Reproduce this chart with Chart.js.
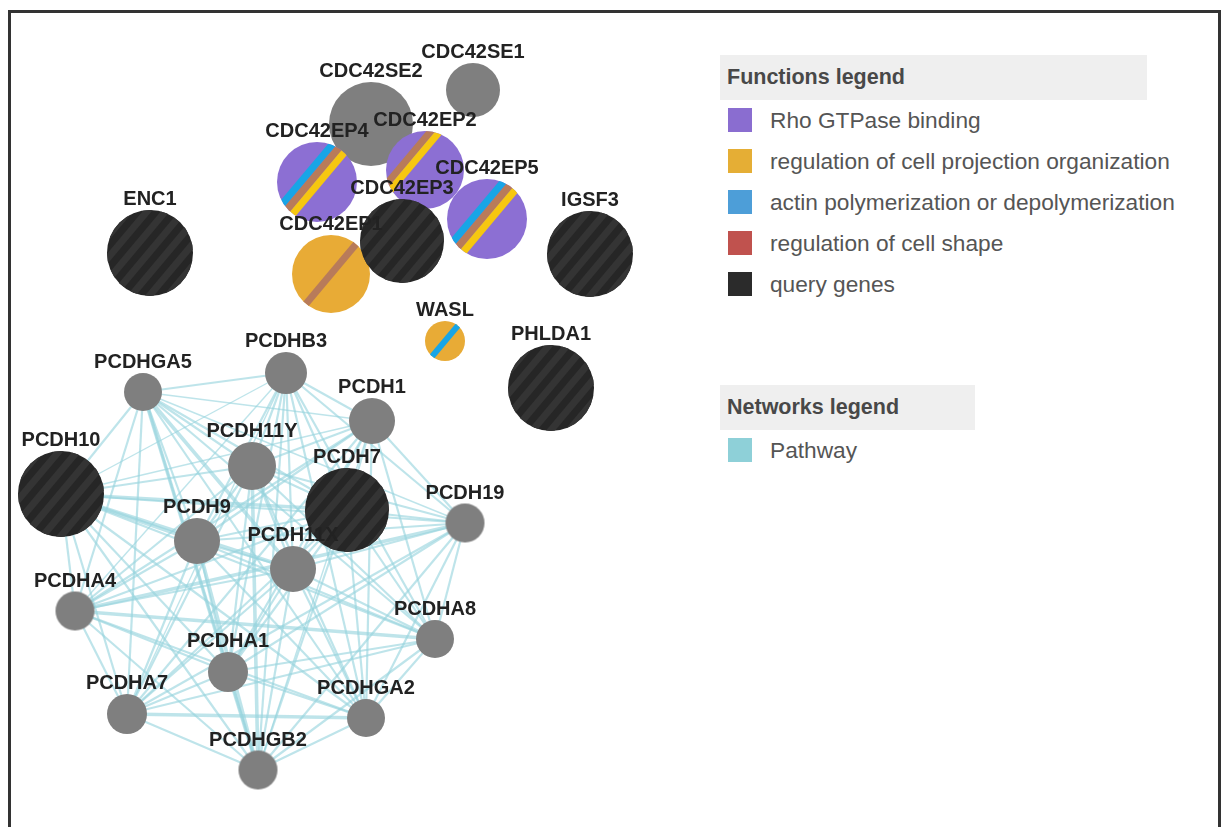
<!DOCTYPE html>
<html>
<head>
<meta charset="utf-8">
<title>Gene network</title>
<script src="https://cdn.jsdelivr.net/npm/chart.js@4.4.1/dist/chart.umd.min.js"></script>
<style>
  body {
    margin: 0;
    width: 1223px;
    height: 827px;
    overflow: hidden;
    position: relative;
    background: #fff;
    font-family: "Liberation Sans", Arial, sans-serif;
  }
  .frame {
    position: absolute;
    left: 8px;
    top: 10px;
    width: 1207px;
    height: 830px;
    border: 3px solid #333;
    border-bottom: none;
  }
  #net { position: absolute; left: 0; top: 0; }
  .legend { position: absolute; left: 720px; }
  .legend .head {
    background: #efefef;
    height: 45px;
    line-height: 45px;
    padding-left: 7px;
    font-size: 21.5px;
    font-weight: bold;
    color: #484848;
  }
  .legend .item {
    position: relative;
    height: 41px;
    line-height: 41px;
    padding-left: 50px;
    font-size: 22.7px;
    color: #555;
    white-space: nowrap;
  }
  .legend .item i {
    position: absolute;
    left: 8px;
    top: 8px;
    width: 24px;
    height: 24px;
  }
</style>
</head>
<body>
<div class="frame"></div>
<canvas id="net" width="700" height="827"></canvas>

<div class="legend" style="top:55px; width:427px;">
  <div class="head">Functions legend</div>
  <div id="fnItems"></div>
</div>
<div class="legend" style="top:385px; width:255px;">
  <div class="head">Networks legend</div>
  <div id="netItems"></div>
</div>

<script>
// ---- data ----
const nodeNames = [
  "CDC42SE1", "CDC42SE2", "CDC42EP4", "CDC42EP2", "CDC42EP5", "CDC42EP1",
  "CDC42EP3", "ENC1", "IGSF3", "WASL", "PHLDA1",
  "PCDHB3", "PCDHGA5", "PCDH1", "PCDH11Y", "PCDH10", "PCDH7", "PCDH19",
  "PCDH9", "PCDH11X", "PCDHA4", "PCDHA8", "PCDHA1", "PCDHA7", "PCDHGA2", "PCDHGB2"
];
// layout coordinates of the network
const nodeX = [473, 371, 317, 425, 487, 331, 402, 150, 590, 445, 551,
  286, 143, 372, 252, 61, 347, 465, 197, 293, 75, 435, 228, 127, 366, 258];
const nodeY = [90, 124, 182, 170, 219, 274, 241, 253, 254, 341, 388,
  373, 392, 421, 466, 494, 510, 523, 541, 569, 611, 639, 672, 714, 718, 770];
// node score (drawn as bubble radius)
const nodeScore = [27, 42, 40, 39, 40, 39, 42, 43, 43, 20, 43,
  21, 19, 23, 24, 43, 42, 19.5, 23, 23, 19.5, 19, 20, 20, 19, 19.5];
const queryGenes = ["CDC42EP3", "ENC1", "IGSF3", "PHLDA1", "PCDH10", "PCDH7"];

const functionNames = [
  "Rho GTPase binding",
  "regulation of cell projection organization",
  "actin polymerization or depolymerization",
  "regulation of cell shape",
  "query genes"
];
// functions per gene (first one is the fill, the rest are bands)
const geneFunctions = {
  CDC42EP4: ["Rho GTPase binding", "actin polymerization or depolymerization", "regulation of cell shape", "regulation of cell projection organization"],
  CDC42EP5: ["Rho GTPase binding", "actin polymerization or depolymerization", "regulation of cell shape", "regulation of cell projection organization"],
  CDC42EP2: ["Rho GTPase binding", "regulation of cell shape", "regulation of cell projection organization"],
  CDC42EP1: ["regulation of cell projection organization", "regulation of cell shape"],
  WASL: ["regulation of cell projection organization", "actin polymerization or depolymerization"]
};
const networkNames = ["Pathway"];

// pathway edges: [source, target, weight]
const edges = [
  ["PCDHB3","PCDHGA5",2],["PCDHB3","PCDH1",2],["PCDHB3","PCDH11Y",2],["PCDHB3","PCDH10",1],
  ["PCDHB3","PCDH7",2],["PCDHB3","PCDH19",2],["PCDHB3","PCDH9",2],["PCDHB3","PCDH11X",2],
  ["PCDHB3","PCDHA4",1],["PCDHB3","PCDHA8",2],["PCDHB3","PCDHA1",2],["PCDHB3","PCDHA7",1],
  ["PCDHB3","PCDHGA2",2],["PCDHB3","PCDHGB2",2],
  ["PCDHGA5","PCDH1",1],["PCDHGA5","PCDH11Y",2],["PCDHGA5","PCDH10",2],["PCDHGA5","PCDH7",2],
  ["PCDHGA5","PCDH19",1],["PCDHGA5","PCDH9",2],["PCDHGA5","PCDH11X",3],["PCDHGA5","PCDHA4",2],
  ["PCDHGA5","PCDHA8",2],["PCDHGA5","PCDHA1",3],["PCDHGA5","PCDHA7",2],["PCDHGA5","PCDHGA2",2],
  ["PCDHGA5","PCDHGB2",2],
  ["PCDH1","PCDH11Y",2],["PCDH1","PCDH10",1],["PCDH1","PCDH7",2],["PCDH1","PCDH19",2],
  ["PCDH1","PCDH9",2],["PCDH1","PCDH11X",2],["PCDH1","PCDHA4",2],["PCDH1","PCDHA8",2],
  ["PCDH1","PCDHA1",2],["PCDH1","PCDHA7",2],["PCDH1","PCDHGA2",2],["PCDH1","PCDHGB2",1],
  ["PCDH11Y","PCDH10",2],["PCDH11Y","PCDH7",2],["PCDH11Y","PCDH19",2],["PCDH11Y","PCDH9",2],
  ["PCDH11Y","PCDH11X",2],["PCDH11Y","PCDHA4",2],["PCDH11Y","PCDHA8",2],["PCDH11Y","PCDHA1",2],
  ["PCDH11Y","PCDHA7",2],["PCDH11Y","PCDHGA2",2],["PCDH11Y","PCDHGB2",3],
  ["PCDH10","PCDH7",3],["PCDH10","PCDH19",2],["PCDH10","PCDH9",3],["PCDH10","PCDH11X",3],
  ["PCDH10","PCDHA4",2],["PCDH10","PCDHA8",2],["PCDH10","PCDHA1",2],["PCDH10","PCDHA7",2],
  ["PCDH10","PCDHGA2",2],["PCDH10","PCDHGB2",2],
  ["PCDH7","PCDH19",2],["PCDH7","PCDH9",2],["PCDH7","PCDH11X",2],["PCDH7","PCDHA4",2],
  ["PCDH7","PCDHA8",2],["PCDH7","PCDHA1",2],["PCDH7","PCDHA7",2],["PCDH7","PCDHGA2",2],
  ["PCDH7","PCDHGB2",2],
  ["PCDH19","PCDH9",2],["PCDH19","PCDH11X",2],["PCDH19","PCDHA4",3],["PCDH19","PCDHA8",2],
  ["PCDH19","PCDHA1",2],["PCDH19","PCDHA7",2],["PCDH19","PCDHGA2",2],["PCDH19","PCDHGB2",2],
  ["PCDH9","PCDH11X",2],["PCDH9","PCDHA4",2],["PCDH9","PCDHA8",2],["PCDH9","PCDHA1",2],
  ["PCDH9","PCDHA7",2],["PCDH9","PCDHGA2",2],["PCDH9","PCDHGB2",3],
  ["PCDH11X","PCDHA4",2],["PCDH11X","PCDHA8",2],["PCDH11X","PCDHA1",2],["PCDH11X","PCDHA7",2],
  ["PCDH11X","PCDHGA2",2],["PCDH11X","PCDHGB2",2],
  ["PCDHA4","PCDHA8",3],["PCDHA4","PCDHA1",2],["PCDHA4","PCDHA7",2],["PCDHA4","PCDHGA2",2],
  ["PCDHA4","PCDHGB2",2],
  ["PCDHA8","PCDHA1",2],["PCDHA8","PCDHA7",2],["PCDHA8","PCDHGA2",2],["PCDHA8","PCDHGB2",2],
  ["PCDHA1","PCDHA7",2],["PCDHA1","PCDHGA2",2],["PCDHA1","PCDHGB2",3],
  ["PCDHA7","PCDHGA2",3],["PCDHA7","PCDHGB2",2],
  ["PCDHGA2","PCDHGB2",2]
];

// ---- styles ----
const legendColors = {
  "Rho GTPase binding": "#8a6dd0",
  "regulation of cell projection organization": "#e5ae35",
  "actin polymerization or depolymerization": "#4d9ed8",
  "regulation of cell shape": "#c0524e",
  "query genes": "#2b2b2b",
  "Pathway": "#8ed0d8"
};
const fillColors = {
  "Rho GTPase binding": "#8c6fd3",
  "regulation of cell projection organization": "#e8ab36"
};
const bandColors = {
  "actin polymerization or depolymerization": "#18a5e6",
  "regulation of cell shape": "#b87b5a",
  "regulation of cell projection organization": "#f6c710"
};
// where the first band starts (offset across the node, px); default centred
const bandStart = { CDC42EP4: -16, CDC42EP5: -15, CDC42EP2: -24 };
const edgeWidth = { 1: 1.4, 2: 2.2, 3: 3.6 };
const edgeColor = "rgba(150, 212, 221, 0.62)";
const relatedColor = "#7f7f7f";
const ANGLE = 50 * Math.PI / 180;

// build a node picture, used as the point style
function nodeImage(name, r) {
  const size = Math.ceil(2 * r + 4);
  const c = document.createElement("canvas");
  c.width = size; c.height = size;
  const g = c.getContext("2d");
  const cx = size / 2, cy = size / 2;
  g.beginPath();
  g.arc(cx, cy, r, 0, Math.PI * 2);
  g.save();
  g.clip();
  const dx = Math.cos(ANGLE), dy = -Math.sin(ANGLE);
  const nx = Math.sin(ANGLE), ny = Math.cos(ANGLE);
  const band = (off, w, color) => {
    g.strokeStyle = color;
    g.lineWidth = w;
    g.beginPath();
    g.moveTo(cx + nx * off - dx * (r + 6), cy + ny * off - dy * (r + 6));
    g.lineTo(cx + nx * off + dx * (r + 6), cy + ny * off + dy * (r + 6));
    g.stroke();
  };
  const fns = geneFunctions[name];
  if (queryGenes.includes(name)) {
    g.fillStyle = "#262626";
    g.fillRect(0, 0, size, size);
    for (let o = -r - 14; o < r + 14; o += 14) band(o, 7, "#343434");
  } else if (fns) {
    g.fillStyle = fillColors[fns[0]];
    g.fillRect(0, 0, size, size);
    const rest = fns.slice(1);
    const w = Math.max(6, r * 0.18);
    let off = bandStart[name] !== undefined ? bandStart[name] : -w * rest.length / 2;
    rest.forEach(f => { band(off + w / 2, w, bandColors[f]); off += w; });
  } else {
    g.fillStyle = relatedColor;
    g.fillRect(0, 0, size, size);
  }
  g.restore();
  return c;
}

const nodeImages = nodeNames.map((n, i) => nodeImage(n, nodeScore[i]));
const pos = name => {
  const i = nodeNames.indexOf(name);
  return { x: nodeX[i], y: nodeY[i] };
};

const edgeSets = edges.map(([a, b, w]) => ({
  type: "line",
  data: [pos(a), pos(b)],
  borderColor: edgeColor,
  borderWidth: edgeWidth[w],
  pointRadius: 0,
  clip: false,
  order: 1
}));

const nodeSet = {
  type: "bubble",
  data: nodeNames.map((n, i) => ({ x: nodeX[i], y: nodeY[i], r: nodeScore[i] })),
  pointStyle: ctx => (ctx.dataIndex === undefined ? "circle" : nodeImages[ctx.dataIndex]),
  backgroundColor: relatedColor,
  borderWidth: 0,
  clip: false,
  order: 0
};

// gene names above the nodes
const labelPlugin = {
  id: "geneLabels",
  afterDatasetsDraw(chart) {
    const ctx = chart.ctx;
    const meta = chart.getDatasetMeta(0);
    ctx.save();
    ctx.font = "bold 20px 'Liberation Sans', Arial, sans-serif";
    ctx.textAlign = "center";
    ctx.textBaseline = "alphabetic";
    ctx.fillStyle = "#222";
    meta.data.forEach((el, i) => {
      ctx.fillText(nodeNames[i], el.x, el.y - nodeScore[i] - 5);
    });
    ctx.restore();
  }
};

new Chart(document.getElementById("net"), {
  type: "bubble",
  data: { datasets: [nodeSet, ...edgeSets] },
  options: {
    responsive: false,
    animation: false,
    events: [],
    layout: { padding: 0, autoPadding: false },
    scales: {
      x: { type: "linear", min: 0, max: 700, display: false },
      y: { type: "linear", min: 0, max: 827, reverse: true, display: false }
    },
    plugins: { legend: { display: false }, tooltip: { enabled: false } }
  },
  plugins: [labelPlugin]
});

// legends
function fillLegend(id, names) {
  const box = document.getElementById(id);
  names.forEach(n => {
    const d = document.createElement("div");
    d.className = "item";
    d.innerHTML = '<i style="background:' + legendColors[n] + '"></i>' + n;
    box.appendChild(d);
  });
}
fillLegend("fnItems", functionNames);
fillLegend("netItems", networkNames);
</script>
</body>
</html>
